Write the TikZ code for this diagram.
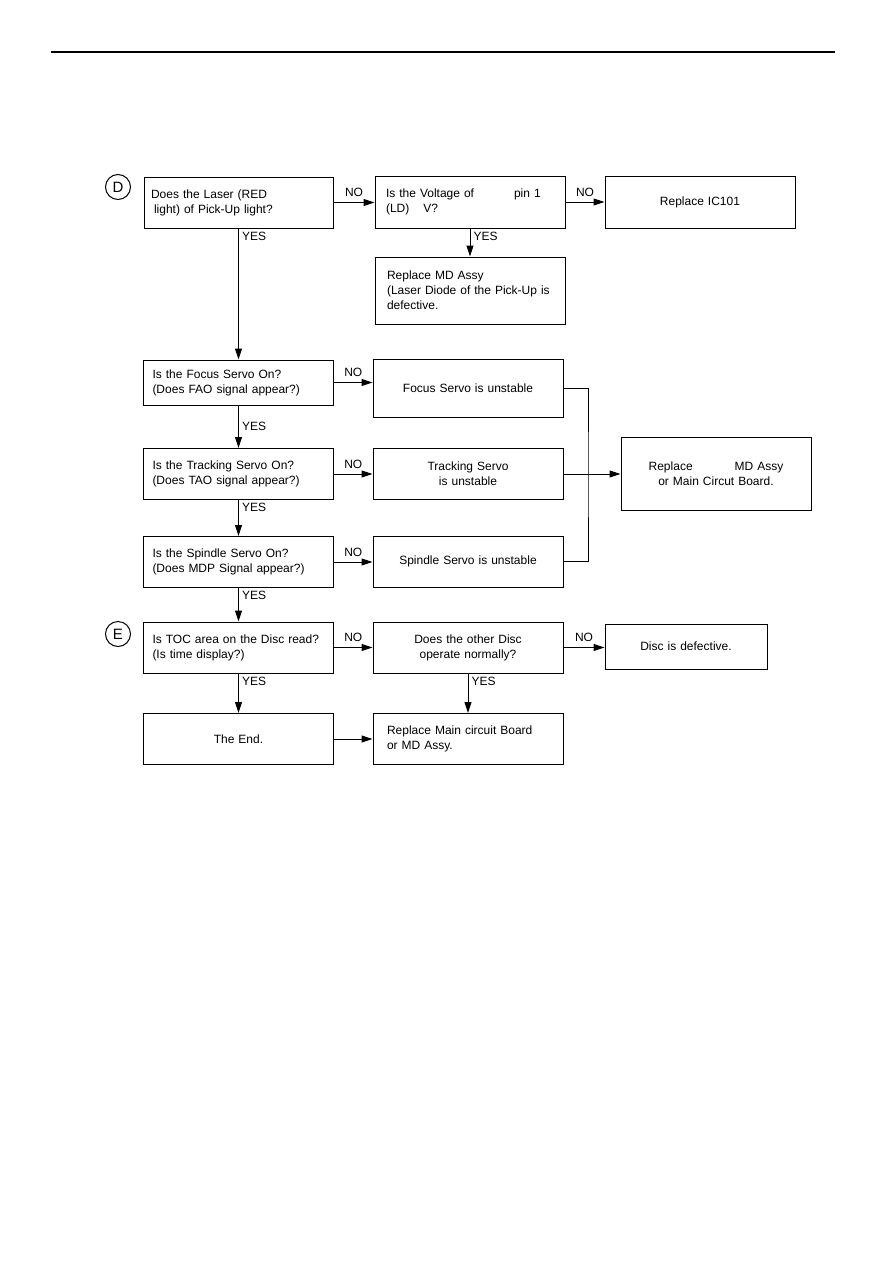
\documentclass[tikz,border=0pt]{standalone}
\usepackage{fontspec}
\setmainfont{Liberation Sans}
\usepackage{tikz}
\usetikzlibrary{positioning, arrows.meta}

\begin{document}
\begin{tikzpicture}[
    x=1pt, y=-1pt,
    every node/.style={font=\fontsize{12}{15}\selectfont, align=left},
    box/.style={rectangle, draw, line width=1pt, minimum height=51pt, text width=172pt, inner xsep=9pt, inner ysep=0pt},
    cbox/.style={box, align=center},
    circ/.style={circle, draw, line width=1pt, minimum size=25pt, inner sep=0pt, font=\fontsize{15}{15}\selectfont},
    flow/.style={-{Stealth[length=11pt, width=7pt, inset=0pt]}, line width=1pt},
    tag/.style={inner sep=3pt},
    notag/.style={inner sep=5pt},
]
\useasboundingbox (0,0) rectangle (893,1263);

% Page rule
\draw[line width=2.5pt] (51,52) -- (835,52);

% Check D (laser)
\node[circ] (D) at (118,187) {D};
\node[box, text width=175pt, inner xsep=7pt] (laser) at (238.5,202.5)
  {Does the Laser (RED\\
   \hspace{3pt}light) of Pick-Up light?};
\node[box, text width=168pt, inner xsep=11pt, minimum height=52pt] (volt) at (470,202)
  {Is the Voltage of\hspace{40pt}pin 1\\
   (LD)\hspace{14pt}V?};
\node[cbox, minimum height=52pt] (ic) at (700,202) {Replace IC101\hspace{10pt}};
\node[box, text width=166pt, inner xsep=12pt, minimum height=67pt] (mdassy) at (470,290.5)
  {Replace MD Assy\\
   (Laser Diode of the Pick-Up is\\
   defective.};

% Servo checks
\node[box, minimum height=45pt] (focus) at (238.5,382.5)
  {Is the Focus Servo On?\\
   (Does FAO signal appear?)};
\node[cbox, minimum height=58pt] (funst) at (468,388) {Focus Servo is unstable};
\node[box] (track) at (238.5,474)
  {Is the Tracking Servo On?\\
   (Does TAO signal appear?)};
\node[cbox] (tunst) at (468,474) {Tracking Servo\\is unstable};
\node[box] (spin) at (238.5,562)
  {Is the Spindle Servo On?\\
   (Does MDP Signal appear?)};
\node[cbox] (sunst) at (468,561.5) {Spindle Servo is unstable};
\node[cbox, minimum height=73pt] (board) at (716,473.5)
  {Replace\hspace{42pt}MD Assy\\
   or Main Circut Board.};

% Check E (TOC)
\node[circ] (E) at (118,634) {E};
\node[box] (toc) at (238.5,647.5)
  {Is TOC area on the Disc read?\\
   (Is time display?)};
\node[cbox] (other) at (468,647.5) {Does the other Disc\\operate normally?};
\node[cbox, text width=144pt, minimum height=45pt] (disc) at (686,646.5) {Disc is defective.};
\node[cbox] (theend) at (238.5,739) {The End.};
\node[box, text width=162pt, inner xsep=14pt] (mainbd) at (468,739)
  {Replace Main circuit Board\\
   or MD Assy.};

% YES branches (down)
\draw[flow] (laser.south) -- (focus.north) node[tag, at start, anchor=north west] {YES};
\draw[flow] (volt.south) -- (mdassy.north) node[tag, at start, anchor=north west] {YES};
\draw[flow] (focus.south) -- (track.north) node[tag, midway, right] {YES};
\draw[flow] (track.south) -- (spin.north) node[tag, at start, anchor=north west] {YES};
\draw[flow] (spin.south) -- (toc.north) node[tag, at start, anchor=north west] {YES};
\draw[flow] (toc.south) -- (theend.north) node[tag, at start, anchor=north west] {YES};
\draw[flow] (other.south) -- (mainbd.north) node[tag, at start, anchor=north west] {YES};

% NO branches (right)
\draw[flow] (laser.east) -- (laser.east -| volt.west) node[notag, midway, above] {NO};
\draw[flow] (volt.east) -- (volt.east -| ic.west) node[notag, midway, above] {NO};
\draw[flow] (focus.east) -- (focus.east -| funst.west) node[notag, midway, above] {NO};
\draw[flow] (track.east) -- (track.east -| tunst.west) node[notag, midway, above] {NO};
\draw[flow] (spin.east) -- (spin.east -| sunst.west) node[notag, midway, above] {NO};
\draw[flow] (toc.east) -- (toc.east -| other.west) node[notag, midway, above] {NO};
\draw[flow] (other.east) -- (other.east -| disc.west) node[notag, midway, above] {NO};
\draw[flow] (theend.east) -- (mainbd.west);

% Unstable servos join
\coordinate (bus) at (588,474);
\draw[line width=1pt] (funst.east) -| (bus) |- (sunst.east);
\draw[flow] (tunst.east) -- (tunst.east -| board.west);
\end{tikzpicture}
\end{document}
